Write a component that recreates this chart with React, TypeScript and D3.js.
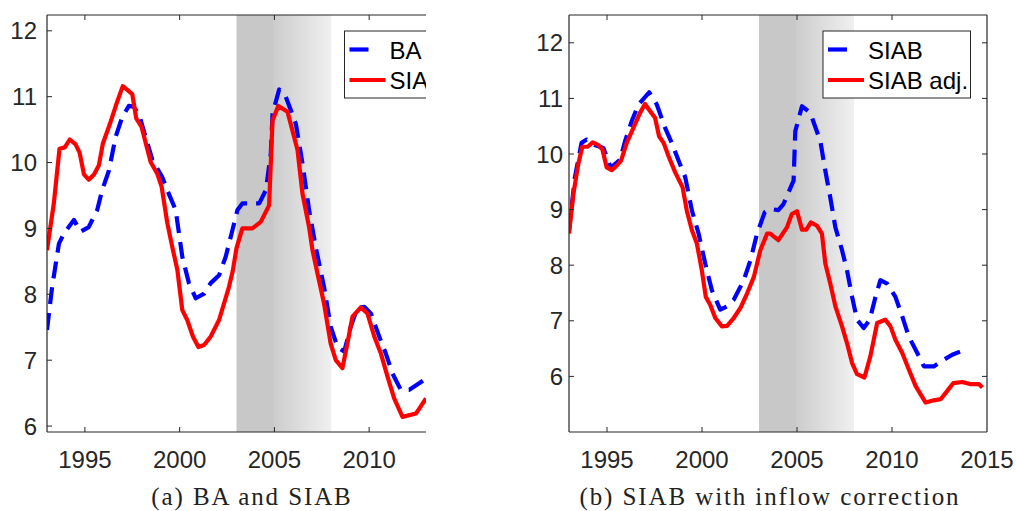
import React from "react";
import * as d3 from "d3";

// ---------- data ----------
// Panel (a): BA (dashed blue) and SIAB (solid red)
const baT = [1993.0, 1993.27, 1993.63, 1993.89, 1994.42, 1994.77, 1995.2, 1995.65, 1995.91, 1996.27, 1996.62, 1996.97, 1997.32, 1997.55, 1997.85, 1998.2, 1998.56, 1999.08, 1999.35, 1999.79, 2000.14, 2000.49, 2000.85, 2001.29, 2001.64, 2002.08, 2002.43, 2002.78, 2003.05, 2003.31, 2004.2, 2004.55, 2004.81, 2004.9, 2005.25, 2005.6, 2006.13, 2006.48, 2006.83, 2007.18, 2007.62, 2007.97, 2008.33, 2008.68, 2009.03, 2009.38, 2009.74, 2010.09, 2010.53, 2010.88, 2011.23, 2011.67, 2012.12, 2012.64, 2013.0];
const baV = [7.46, 8.11, 8.77, 8.92, 9.13, 8.95, 9.02, 9.28, 9.58, 9.88, 10.39, 10.69, 10.86, 10.85, 10.74, 10.39, 10.04, 9.78, 9.58, 9.28, 8.57, 8.17, 7.94, 8.01, 8.17, 8.29, 8.57, 8.97, 9.28, 9.38, 9.38, 9.58, 10.14, 10.74, 11.11, 11.0, 10.59, 9.99, 9.28, 8.72, 8.11, 7.51, 7.2, 7.13, 7.51, 7.79, 7.81, 7.71, 7.36, 7.1, 6.8, 6.55, 6.55, 6.65, 6.72];

const siabAT = [1993.0, 1993.36, 1993.66, 1993.94, 1994.2, 1994.5, 1994.72, 1994.95, 1995.2, 1995.48, 1995.74, 1995.95, 1996.36, 1996.7, 1997.0, 1997.5, 1997.71, 1997.99, 1998.47, 1998.82, 1999.05, 1999.35, 1999.61, 1999.88, 2000.14, 2000.4, 2000.7, 2000.99, 2001.29, 2001.64, 2002.08, 2002.6, 2002.8, 2003.0, 2003.31, 2003.84, 2004.28, 2004.72, 2004.9, 2005.21, 2005.69, 2006.22, 2006.48, 2006.83, 2007.01, 2007.27, 2007.62, 2007.97, 2008.24, 2008.59, 2008.85, 2009.12, 2009.56, 2009.91, 2010.27, 2010.62, 2010.97, 2011.32, 2011.76, 2012.47, 2013.0];
const siabAV = [8.67, 9.38, 10.21, 10.23, 10.35, 10.28, 10.15, 9.82, 9.74, 9.82, 9.96, 10.29, 10.62, 10.92, 11.16, 11.04, 10.67, 10.54, 10.01, 9.83, 9.63, 9.08, 8.72, 8.37, 7.76, 7.61, 7.36, 7.2, 7.23, 7.36, 7.61, 8.11, 8.35, 8.7, 9.0, 9.0, 9.1, 9.35, 10.64, 10.86, 10.77, 10.19, 9.53, 9.02, 8.67, 8.32, 7.86, 7.25, 7.0, 6.88, 7.25, 7.66, 7.8, 7.71, 7.36, 7.1, 6.75, 6.42, 6.14, 6.19, 6.42];

// Panel (b): SIAB (dashed blue) and SIAB adj. (solid red)
const siabBT = [1993.0, 1993.31, 1993.66, 1993.93, 1994.28, 1994.81, 1995.2, 1995.69, 1995.95, 1996.3, 1996.66, 1997.22, 1997.62, 1998.06, 1998.41, 1998.77, 1999.12, 1999.47, 1999.82, 2000.17, 2000.52, 2000.96, 2001.32, 2001.67, 2002.2, 2002.55, 2002.9, 2003.3, 2003.59, 2004.02, 2004.29, 2004.82, 2004.91, 2005.26, 2005.7, 2006.23, 2006.49, 2006.75, 2007.02, 2007.37, 2007.63, 2007.9, 2008.16, 2008.51, 2008.83, 2009.13, 2009.39, 2009.74, 2010.18, 2010.54, 2010.88, 2011.33, 2011.68, 2012.2, 2012.73, 2013.17, 2013.61, 2013.91];
const siabBV = [8.62, 9.58, 10.2, 10.26, 10.17, 10.11, 9.75, 9.9, 10.23, 10.59, 10.89, 11.11, 10.89, 10.47, 10.2, 9.88, 9.58, 8.98, 8.57, 8.03, 7.55, 7.2, 7.26, 7.38, 7.73, 8.09, 8.57, 8.95, 9.01, 8.99, 9.1, 9.52, 10.41, 10.86, 10.74, 10.23, 9.7, 9.22, 8.68, 8.27, 7.91, 7.43, 7.02, 6.87, 7.02, 7.43, 7.73, 7.67, 7.43, 7.08, 6.72, 6.42, 6.18, 6.18, 6.3, 6.39, 6.45, 6.45];

const adjT = [1993.0, 1993.23, 1993.49, 1993.7, 1993.98, 1994.25, 1994.55, 1994.76, 1994.98, 1995.25, 1995.51, 1995.74, 1996.04, 1996.39, 1996.74, 1997.0, 1997.27, 1997.53, 1997.74, 1997.98, 1998.24, 1998.59, 1998.98, 1999.2, 1999.47, 1999.73, 1999.99, 2000.2, 2000.43, 2000.7, 2001.05, 2001.32, 2001.67, 2002.02, 2002.37, 2002.73, 2003.07, 2003.43, 2003.59, 2004.02, 2004.47, 2004.73, 2005.0, 2005.26, 2005.49, 2005.73, 2006.05, 2006.31, 2006.49, 2006.75, 2007.02, 2007.37, 2007.63, 2007.9, 2008.16, 2008.55, 2008.86, 2009.22, 2009.65, 2009.92, 2010.18, 2010.54, 2010.88, 2011.24, 2011.5, 2011.77, 2012.2, 2012.56, 2012.91, 2013.23, 2013.7, 2014.14, 2014.58, 2014.76];
const adjV = [8.57, 9.28, 9.82, 10.13, 10.13, 10.21, 10.16, 10.08, 9.76, 9.71, 9.79, 9.88, 10.2, 10.47, 10.74, 10.9, 10.77, 10.65, 10.32, 10.2, 9.96, 9.67, 9.4, 8.98, 8.63, 8.39, 7.91, 7.43, 7.29, 7.05, 6.9, 6.91, 7.05, 7.23, 7.49, 7.79, 8.27, 8.57, 8.57, 8.45, 8.68, 8.92, 8.97, 8.64, 8.64, 8.77, 8.71, 8.57, 8.03, 7.67, 7.26, 6.9, 6.6, 6.24, 6.04, 5.98, 6.36, 6.96, 7.02, 6.9, 6.66, 6.42, 6.13, 5.83, 5.68, 5.53, 5.57, 5.59, 5.74, 5.88, 5.9, 5.86, 5.86, 5.8];

const xTicksA = [1995, 2000, 2005, 2010];
const xTicksB = [1995, 2000, 2005, 2010, 2015];
const yTicks = [6, 7, 8, 9, 10, 11, 12];
const shadeStart = 2003;
const shadeEnd = 2008;

const legendA = ["BA", "SIAB"];
const legendB = ["SIAB", "SIAB adj."];
const captionA = "(a) BA and SIAB";
const captionB = "(b) SIAB with inflow correction";

const AX = "#262626";
const BLUE = "#0000ff";
const RED = "#ff0000";
const TICK_FONT = "'Liberation Sans', Arial, Helvetica, sans-serif";
const FS = 24;

type PanelProps = {
  id: string;
  left: number;
  right: number;
  clipRight: number;
  top: number;
  bottom: number;
  xDomain: [number, number];
  yDomain: [number, number];
  xTicks: number[];
  blueT: number[];
  blueV: number[];
  redT: number[];
  redV: number[];
  legend: string[];
  legendX: number;
  legendW: number;
  fullBox: boolean;
  labelGap: number;
  caption: string;
  captionX: number;
};

function Panel(p: PanelProps) {
  const x = d3.scaleLinear().domain(p.xDomain).range([p.left, p.right]);
  const y = d3.scaleLinear().domain(p.yDomain).range([p.bottom, p.top]);
  const line = d3
    .line<[number, number]>()
    .x((d) => x(d[0]))
    .y((d) => y(d[1]));
  const blue = line(p.blueT.map((t, i) => [t, p.blueV[i]] as [number, number])) || "";
  const red = line(p.redT.map((t, i) => [t, p.redV[i]] as [number, number])) || "";
  const x0 = x(shadeStart);
  const x1 = x(shadeEnd);
  const tl = 5;
  const lx = p.legendX;
  const ly = 31;
  return (
    <g>
      <defs>
        <clipPath id={`clip-${p.id}`}>
          <rect x={p.left} y={p.top} width={p.clipRight - p.left} height={p.bottom - p.top} />
        </clipPath>
        <clipPath id={`clipL-${p.id}`}>
          <rect x={p.left} y={0} width={p.clipRight - p.left} height={p.bottom} />
        </clipPath>
        <linearGradient id={`grad-${p.id}`} gradientUnits="userSpaceOnUse" x1={x0} x2={x1} y1={0} y2={0}>
          <stop offset="0" stopColor="#c8c8c8" />
          <stop offset="0.38" stopColor="#c8c8c8" />
          <stop offset="0.4" stopColor="#cdcdcd" />
          <stop offset="1" stopColor="#f0f0f0" />
        </linearGradient>
      </defs>
      <rect x={x0} y={p.top} width={x1 - x0} height={p.bottom - p.top} fill={`url(#grad-${p.id})`} />
      <g clipPath={`url(#clip-${p.id})`}>
        <path d={blue} fill="none" stroke={BLUE} strokeWidth={4.2} strokeDasharray="17,9" strokeLinejoin="round" />
        <path d={red} fill="none" stroke={RED} strokeWidth={4.2} strokeLinejoin="round" />
      </g>
      {/* axes */}
      <line x1={p.left} x2={p.clipRight} y1={p.top} y2={p.top} stroke={AX} strokeWidth={1.2} />
      <line x1={p.left} x2={p.clipRight} y1={p.bottom} y2={p.bottom} stroke={AX} strokeWidth={1.2} />
      <line x1={p.left} x2={p.left} y1={p.top} y2={p.bottom} stroke={AX} strokeWidth={1.2} />
      {p.fullBox && <line x1={p.right} x2={p.right} y1={p.top} y2={p.bottom} stroke={AX} strokeWidth={1.2} />}
      {p.xTicks.map((t) => (
        <g key={`xt${t}`}>
          {x(t) < p.right - 1 && (
            <>
              <line x1={x(t)} x2={x(t)} y1={p.bottom} y2={p.bottom - tl} stroke={AX} strokeWidth={1} />
              <line x1={x(t)} x2={x(t)} y1={p.top} y2={p.top + tl} stroke={AX} strokeWidth={1} />
            </>
          )}
          <text x={x(t)} y={467.5} textAnchor="middle" fontFamily={TICK_FONT} fontSize={FS} fill={AX}>
            {t}
          </text>
        </g>
      ))}
      {yTicks.map((v) => (
        <g key={`yt${v}`}>
          <line x1={p.left} x2={p.left + tl} y1={y(v)} y2={y(v)} stroke={AX} strokeWidth={1} />
          {p.fullBox && <line x1={p.right} x2={p.right - tl} y1={y(v)} y2={y(v)} stroke={AX} strokeWidth={1} />}
          <text x={p.left - p.labelGap} y={y(v)} dy="0.36em" textAnchor="end" fontFamily={TICK_FONT} fontSize={FS} fill={AX}>
            {v}
          </text>
        </g>
      ))}
      {/* legend */}
      <g clipPath={`url(#clipL-${p.id})`}>
        <rect x={lx} y={ly} width={p.legendW} height={67} fill="#ffffff" stroke={AX} strokeWidth={1} />
        <line x1={lx + 5} x2={lx + 24} y1={ly + 18.5} y2={ly + 18.5} stroke={BLUE} strokeWidth={4.2} />
        <line x1={lx + 5} x2={lx + 41} y1={ly + 49} y2={ly + 49} stroke={RED} strokeWidth={4.2} />
        <text x={lx + 45} y={ly + 28} fontFamily={TICK_FONT} fontSize={FS} fill="#000">
          {p.legend[0]}
        </text>
        <text x={lx + 45} y={ly + 58} fontFamily={TICK_FONT} fontSize={FS} fill="#000">
          {p.legend[1]}
        </text>
      </g>
      <text
        x={p.captionX}
        y={505}
        textAnchor="middle"
        fontFamily="'Liberation Serif', 'Times New Roman', serif"
        fontSize={25}
        letterSpacing={1.9}
        fill="#222"
      >
        {p.caption}
      </text>
    </g>
  );
}

export default function App() {
  return (
    <svg
      width={1016}
      height={511}
      style={{ position: "absolute", left: 0, top: 0, background: "#fff" }}
      viewBox="0 0 1016 511"
    >
      <rect x={0} y={0} width={1016} height={511} fill="#fff" />
      <Panel
        id="a"
        left={47}
        right={426}
        clipRight={426}
        top={15}
        bottom={432}
        xDomain={[1993, 2013]}
        yDomain={[5.91, 12.24]}
        xTicks={xTicksA}
        blueT={baT}
        blueV={baV}
        redT={siabAT}
        redV={siabAV}
        legend={legendA}
        legendX={344.5}
        legendW={120}
        fullBox={false}
        labelGap={10}
        caption={captionA}
        captionX={252}
      />
      <Panel
        id="b"
        left={569}
        right={987}
        clipRight={987}
        top={15}
        bottom={432}
        xDomain={[1993, 2015]}
        yDomain={[5, 12.5]}
        xTicks={xTicksB}
        blueT={siabBT}
        blueV={siabBV}
        redT={adjT}
        redV={adjV}
        legend={legendB}
        legendX={823}
        legendW={147.5}
        fullBox={true}
        labelGap={6}
        caption={captionB}
        captionX={770}
      />
    </svg>
  );
}
